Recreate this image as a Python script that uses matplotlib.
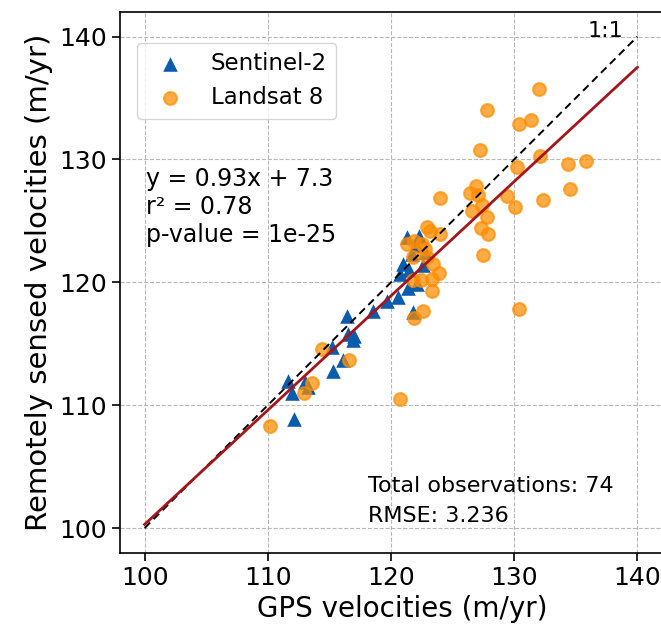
import matplotlib
matplotlib.use("Agg")
import matplotlib.pyplot as plt
import numpy as np

# GPS vs. remotely sensed glacier velocities (m/yr)
s2_gps = [121.3, 122.3, 121.7, 121.0, 120.7, 122.6, 121.4, 120.6, 119.7, 121.8,
          116.4, 118.5, 116.5, 116.9, 115.2, 116.1, 115.3, 113.0, 111.6, 112.0,
          112.1, 122.0, 122.8, 121.5, 117.0, 122.1, 113.3]
s2_rs = [123.7, 123.8, 122.3, 121.5, 120.7, 121.4, 119.5, 118.8, 118.5, 117.6,
         117.3, 117.7, 115.8, 115.3, 114.7, 113.7, 112.8, 111.9, 112.0, 111.0,
         108.9, 123.0, 122.5, 121.0, 115.6, 119.9, 111.5]

l8_gps = [132.0, 127.8, 130.4, 131.4, 127.2, 132.1, 130.2, 134.4, 126.9, 126.4,
          127.1, 127.4, 129.4, 132.3, 130.1, 134.5, 124.0, 126.6, 127.8, 127.3,
          127.9, 127.5, 130.4, 135.8, 122.9, 123.2, 124.0, 121.3, 121.9, 122.5,
          122.8, 121.8, 122.9, 123.4, 123.9, 121.8, 122.4, 123.3, 123.3, 122.6,
          121.9, 114.4, 116.6, 113.6, 112.9, 120.7, 110.2]
l8_rs = [135.7, 134.0, 132.9, 133.2, 130.8, 130.3, 129.4, 129.6, 127.8, 127.3,
         127.1, 126.3, 127.0, 126.7, 126.1, 127.6, 126.9, 125.8, 125.3, 124.4,
         123.9, 122.2, 117.8, 129.9, 124.5, 124.2, 123.9, 123.1, 123.4, 123.1,
         122.7, 122.1, 122.1, 121.5, 120.8, 120.2, 120.2, 120.3, 119.3, 117.7,
         117.1, 114.6, 113.7, 111.8, 111.0, 110.5, 108.3]

fit_slope, fit_intercept = 0.93, 7.3
line_range = [100, 140]

plt.rcParams['font.family'] = ['DejaVu Sans']

fig = plt.figure(figsize=(6.61, 6.30), dpi=100)
# the axes run a little past the right edge of the canvas
ax = fig.add_axes([0.1815, 0.1227, 0.8536, 0.8583])

ax.grid(True, linestyle='--', color='#b8b8b8', linewidth=0.8, zorder=0)
ax.set_axisbelow(True)

ax.scatter(s2_gps, s2_rs, marker='^', s=110, color='#0b5cad',
           linewidths=0, label='Sentinel-2', zorder=3)
ax.scatter(l8_gps, l8_rs, marker='o', s=85, facecolor='darkorange',
           edgecolor='darkorange', linewidths=1.5, alpha=0.72,
           label='Landsat 8', zorder=4)

xr = np.array(line_range, dtype=float)
ax.plot(xr, xr, linestyle=(0, (4, 2.5)), color='black', linewidth=1.4, zorder=5)
ax.plot(xr, fit_slope * xr + fit_intercept, color='#a3161b', linewidth=2.0, zorder=5)

ax.text(137.4, 139.6, '1:1', ha='center', va='bottom', fontsize=16)
ax.text(100.1, 129.4, 'y = %.2fx + %.1f\nr\u00b2 = 0.78\np-value = 1e-25'
        % (fit_slope, fit_intercept),
        ha='left', va='top', fontsize=17, linespacing=1.22)
n_obs = len(s2_gps) + len(l8_gps)
ax.text(118.15, 102.2, 'Total observations: %d\nRMSE: 3.236' % n_obs,
        ha='left', va='center', fontsize=16, linespacing=1.62)

ax.set_xlim(98, 143.8)
ax.set_ylim(98, 142)
ax.set_xticks([100, 110, 120, 130, 140])
ax.set_yticks([100, 110, 120, 130, 140])
ax.tick_params(labelsize=18, length=6, width=1.2)
for sp in ax.spines.values():
    sp.set_linewidth(1.2)

ax.set_xlabel('GPS velocities (m/yr)', fontsize=20)
ax.set_ylabel('Remotely sensed velocities (m/yr)', fontsize=21)

leg = ax.legend(loc='upper left', bbox_to_anchor=(0.031, 0.943),
                borderaxespad=0, fontsize=16.5, framealpha=0.8,
                edgecolor='#cccccc')

fig.savefig('out.png', dpi=100)
